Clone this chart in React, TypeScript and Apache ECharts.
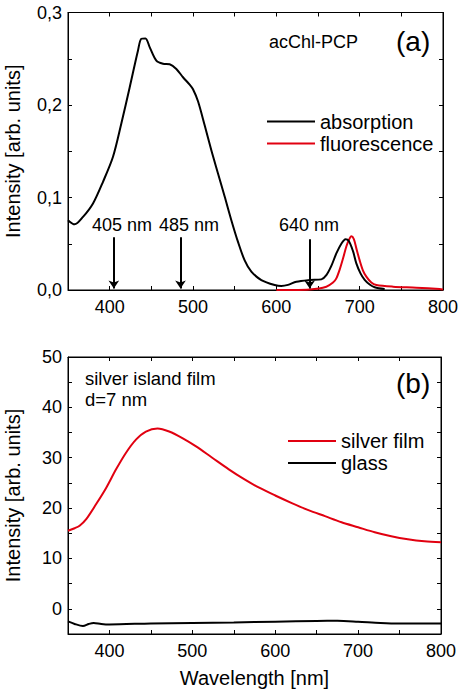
import React, { useEffect, useRef } from "react";
import * as echarts from "echarts";

// ---- Panel (a) data ----
const absorptionWl = [350, 358, 368, 380, 392, 404, 414, 424, 434, 438, 443, 448, 456, 464, 472, 480, 488, 496, 500, 506, 514, 522, 530, 538, 546, 554, 562, 570, 582, 598, 606, 614, 624, 640, 654, 660, 666, 672, 678, 683, 687, 692, 696, 701, 706, 712, 718, 730];
const absorptionVal = [0.0755, 0.071, 0.079, 0.0935, 0.117, 0.144, 0.18, 0.219, 0.259, 0.2716, 0.272, 0.2626, 0.248, 0.2446, 0.244, 0.239, 0.23, 0.222, 0.217, 0.204, 0.178, 0.151, 0.126, 0.101, 0.0755, 0.052, 0.032, 0.0198, 0.0108, 0.0054, 0.0043, 0.0055, 0.009, 0.0108, 0.0115, 0.016, 0.026, 0.0395, 0.05, 0.055, 0.053, 0.042, 0.0288, 0.018, 0.011, 0.006, 0.003, 0.001];
const fluorescenceWl = [600, 620, 640, 660, 668, 672, 676, 680, 684, 687, 690, 693, 696, 700, 704, 708, 714, 720, 740, 768, 796, 800];
const fluorescenceVal = [0, 0, 0.0005, 0.0036, 0.008, 0.0126, 0.022, 0.034, 0.047, 0.054, 0.058, 0.055, 0.045, 0.032, 0.021, 0.0144, 0.008, 0.0054, 0.0036, 0.0025, 0.001, 0.0005];
const arrowWl = [405, 485, 640];
const arrowTop = [0.057, 0.057, 0.055];
const arrowLabels = ["405 nm", "485 nm", "640 nm"];

// ---- Panel (b) data ----
const silverWl = [350, 358, 364, 372, 384, 396, 408, 420, 432, 444, 458, 472, 488, 504, 524, 544, 562, 580, 600, 620, 640, 660, 680, 700, 720, 740, 760, 780, 800];
const silverVal = [15.5, 16.0, 16.5, 17.8, 20.8, 24.0, 27.7, 31.0, 33.6, 35.2, 35.8, 35.2, 33.9, 32.3, 30.0, 27.7, 25.8, 24.1, 22.5, 21.0, 19.6, 18.4, 17.2, 16.2, 15.2, 14.4, 13.8, 13.4, 13.2];
const glassWl = [350, 358, 368, 375, 381, 390, 400, 450, 500, 550, 600, 650, 675, 700, 727, 750, 800];
const glassVal = [-2.5, -3.0, -3.4, -3.0, -2.8, -3.0, -3.1, -2.9, -2.8, -2.7, -2.55, -2.4, -2.37, -2.55, -2.8, -2.9, -2.9];

// ---- Axis settings ----
const xMin = 350;
const xMax = 800;
const xStep = 50;
const yaMin = 0;
const yaMax = 0.3;
const yaStep = 0.05;
const ybMin = -5;
const ybMax = 50;
const ybStep = 5;

const FONT = "'Liberation Sans', Arial, Helvetica, sans-serif";
const RED = "#e10010";
const BLACK = "#000000";

const zip = (xs: number[], ys: number[]) => xs.map((x, i) => [x, ys[i]]);

function App() {
  const ref = useRef<HTMLDivElement>(null);

  useEffect(() => {
    if (!ref.current) return;
    const chart = echarts.init(ref.current, undefined, { renderer: "svg" });

    const baseTick = { show: true, inside: true, length: 4, lineStyle: { color: BLACK, width: 1 } };
    const baseLine = { show: true, onZero: false, lineStyle: { color: BLACK, width: 1 } };
    const labelStyle = { color: BLACK, fontSize: 18, fontFamily: FONT };

    const xLabel = (v: number) => (v % 100 === 0 && v > xMin ? String(v) : "");
    const yaLabel = (v: number) => {
      const t = Math.round(v * 100);
      return t % 10 === 0 ? (t / 100).toFixed(1).replace(".", ",") : "";
    };
    const ybLabel = (v: number) => (Math.round(v) % 10 === 0 ? String(Math.round(v)) : "");

    const mkX = (grid: number, pos: "top" | "bottom", withLabels: boolean, name?: string) => ({
      type: "value",
      gridIndex: grid,
      position: pos,
      min: xMin,
      max: xMax,
      interval: xStep,
      axisLine: baseLine,
      axisTick: baseTick,
      splitLine: { show: false },
      axisLabel: withLabels
        ? { ...labelStyle, margin: 8, formatter: xLabel, showMinLabel: true, showMaxLabel: true }
        : { show: false },
      name: name || "",
      nameLocation: "middle",
      nameGap: 34,
      nameTextStyle: { color: BLACK, fontSize: 20, fontFamily: FONT },
    });
    const mkY = (
      grid: number,
      pos: "left" | "right",
      min: number,
      max: number,
      step: number,
      fmt: ((v: number) => string) | null
    ) => ({
      type: "value",
      gridIndex: grid,
      position: pos,
      min,
      max,
      interval: step,
      axisLine: baseLine,
      axisTick: baseTick,
      splitLine: { show: false },
      axisLabel: fmt ? { ...labelStyle, margin: 6, formatter: fmt, showMinLabel: true, showMaxLabel: true } : { show: false },
      name: fmt ? "Intensity [arb. units]" : "",
      nameLocation: "middle",
      nameGap: 45,
      nameRotate: 90,
      nameTextStyle: { color: BLACK, fontSize: 20, fontFamily: FONT },
    });

    const legendCommon = {
      orient: "vertical",
      icon: "rect",
      itemWidth: 48,
      itemHeight: 2,
      itemGap: 0,
      padding: 0,
      selectedMode: false,
      textStyle: { color: BLACK, fontSize: 20, fontFamily: FONT, lineHeight: 22 },
    };

    const arrowMarkLine = {
      silent: true,
      symbol: ["none", "arrow"],
      symbolSize: 8,
      label: { show: false },
      lineStyle: { color: BLACK, width: 2, type: "solid" },
      emphasis: { disabled: true },
      data: arrowWl.map((w, i) => [
        { coord: [w, arrowTop[i]] },
        { coord: [w, 0.0015] },
      ]),
    };

    const textStyle = (text: string, size: number, align: string) => ({
      text,
      fill: BLACK,
      fontSize: size,
      fontFamily: FONT,
      align,
      verticalAlign: "middle",
    });

    const arrowLabelX = [122, 189, 309];

    const gridCommon = {
      show: true,
      borderColor: BLACK,
      borderWidth: 1,
      containLabel: false,
      outerBoundsMode: "none",
    };

    chart.setOption({
      animation: false,
      backgroundColor: "#ffffff",
      grid: [
        { ...gridCommon, left: 68, right: 19, top: 12.5, height: 277.5 },
        { ...gridCommon, left: 68, right: 21, top: 357, height: 277 },
      ],
      xAxis: [
        mkX(0, "bottom", true),
        mkX(0, "top", false),
        mkX(1, "bottom", true, "Wavelength [nm]"),
        mkX(1, "top", false),
      ],
      yAxis: [
        mkY(0, "left", yaMin, yaMax, yaStep, yaLabel),
        mkY(0, "right", yaMin, yaMax, yaStep, null),
        mkY(1, "left", ybMin, ybMax, ybStep, ybLabel),
        mkY(1, "right", ybMin, ybMax, ybStep, null),
      ],
      legend: [
        { ...legendCommon, left: 267, top: 110.5, data: ["absorption", "fluorescence"] },
        { ...legendCommon, left: 288, top: 430, data: ["silver film", "glass"] },
      ],
      series: [
        {
          name: "absorption",
          type: "line",
          xAxisIndex: 0,
          yAxisIndex: 0,
          data: zip(absorptionWl, absorptionVal),
          showSymbol: false,
          smooth: 0.3,
          color: BLACK,
          lineStyle: { color: BLACK, width: 2 },
          z: 3,
          markLine: arrowMarkLine,
        },
        {
          name: "fluorescence",
          type: "line",
          xAxisIndex: 0,
          yAxisIndex: 0,
          data: zip(fluorescenceWl, fluorescenceVal),
          showSymbol: false,
          smooth: 0.3,
          color: RED,
          lineStyle: { color: RED, width: 2 },
          z: 2,
        },
        {
          name: "silver film",
          type: "line",
          xAxisIndex: 2,
          yAxisIndex: 2,
          data: zip(silverWl, silverVal),
          showSymbol: false,
          smooth: 0.3,
          color: RED,
          lineStyle: { color: RED, width: 2 },
        },
        {
          name: "glass",
          type: "line",
          xAxisIndex: 2,
          yAxisIndex: 2,
          data: zip(glassWl, glassVal),
          showSymbol: false,
          smooth: 0.3,
          color: BLACK,
          lineStyle: { color: BLACK, width: 2 },
        },
      ],
      graphic: [
        { type: "text", x: 269, y: 42, style: textStyle("acChl-PCP", 18, "left") },
        { type: "text", x: 396, y: 41, style: textStyle("(a)", 28, "left") },
        ...arrowLabels.map((t, i) => ({
          type: "text",
          x: arrowLabelX[i],
          y: 225,
          style: textStyle(t, 18, "center"),
        })),
        { type: "text", x: 85, y: 378, style: textStyle("silver island film", 18.5, "left") },
        { type: "text", x: 85, y: 399, style: textStyle("d=7 nm", 18.5, "left") },
        { type: "text", x: 396, y: 383, style: textStyle("(b)", 28, "left") },
      ],
    });

    return () => chart.dispose();
  }, []);

  return (
    <div
      ref={ref}
      style={{ position: "fixed", left: 0, top: 0, width: 462, height: 692, background: "#fff" }}
    />
  );
}

export default App;
